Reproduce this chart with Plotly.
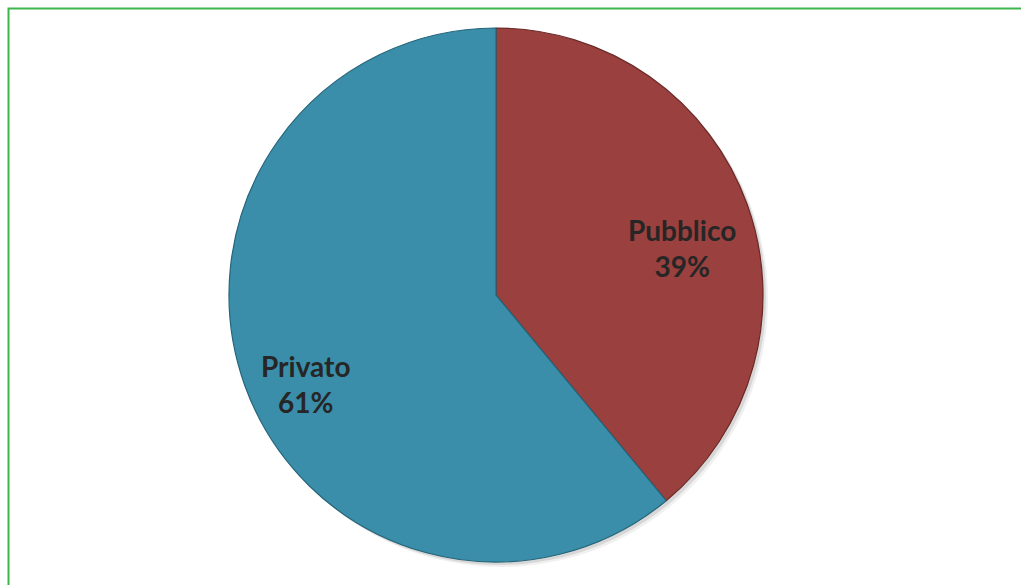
import math
import plotly.graph_objects as go

# Share of sector
labels = ["Pubblico", "Privato"]
values = [39, 61]
colors = ["#9a403e", "#3a8ea9"]
edge_colors = ["#6a2826", "#25657a"]

W, H = 1021, 585
# pie disc geometry in pixels (centre and radius)
cx, cy, r = 496, 295, 267

fig = go.Figure(
    go.Pie(
        labels=labels,
        values=values,
        sort=False,
        direction="clockwise",
        rotation=0,
        marker=dict(colors=colors, line=dict(color=edge_colors, width=1.2)),
        textinfo="none",
        hoverinfo="label+percent",
        showlegend=False,
        domain=dict(
            x=[(cx - r) / W, (cx + r) / W],
            y=[1 - (cy + r) / H, 1 - (cy - r) / H],
        ),
    )
)

# soft drop shadow behind the disc
for off, col in [(5, "rgba(0,0,0,0.06)"), (3, "rgba(0,0,0,0.10)")]:
    fig.add_shape(
        type="circle", layer="below",
        xref="paper", yref="paper",
        x0=(cx - r + off) / W, x1=(cx + r + off) / W,
        y0=1 - (cy + r + off) / H, y1=1 - (cy - r + off) / H,
        line=dict(width=0), fillcolor=col,
    )

# slice labels placed along each slice's bisector
total = sum(values)
cum = 0
for lab, val in zip(labels, values):
    mid = (cum + val / 2) / total * 2 * math.pi
    cum += val
    rr = 0.75 * r
    px = cx + rr * math.sin(mid) - 2
    py = cy - rr * math.cos(mid) + 21
    fig.add_annotation(
        x=px / W, y=1 - py / H, xref="paper", yref="paper",
        xanchor="center", yanchor="middle",
        text=f"<b>{lab}</b><br><b>{round(val / total * 100)}%</b>",
        showarrow=False, align="center",
        font=dict(family="Lato, Carlito, Calibri, sans-serif", size=28, color="#262626"),
    )

# green frame around the chart area
fig.add_shape(
    type="rect",
    xref="paper", yref="paper",
    x0=8.5 / W, x1=1.02, y0=-0.02, y1=1 - 8.5 / H,
    line=dict(color="#3cb54a", width=2),
    fillcolor="rgba(0,0,0,0)",
)

fig.update_layout(
    width=W,
    height=H,
    margin=dict(l=0, r=0, t=0, b=0),
    paper_bgcolor="white",
    plot_bgcolor="white",
)

fig.write_html("out.html")
